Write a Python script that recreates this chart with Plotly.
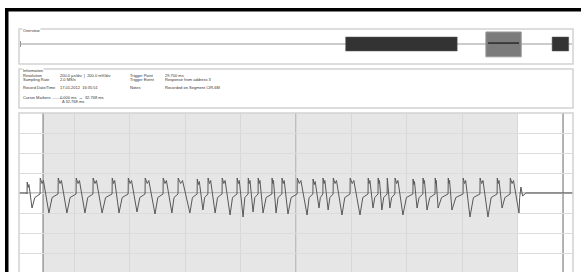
import plotly.graph_objects as go

W, H = 581, 272

# ---------------- data ----------------
# main view: time in microseconds, voltage in millivolts
rise_us = [29, 76, 141, 206, 267, 336, 394, 455, 520, 574, 643, 682, 733, 787, 827, 863, 913, 949,
           1004, 1061, 1097, 1134, 1195, 1260, 1296, 1329, 1357, 1422, 1458, 1502, 1549, 1603, 1664, 1726, 1773]
peak_mv = [110, 150, 150, 150, 150, 150, 150, 150, 150, 150, 140, 150, 150, 150, 150, 150, 150, 150,
           150, 140, 150, 150, 150, 150, 150, 150, 150, 140, 150, 150, 150, 150, 150, 150, 150]
trough_us = [47, 108, 173, 238, 300, 361, 426, 491, 552, 617, 664, 708, 762, 809, 845, 881, 928, 971,
             1040, 1083, 1116, 1166, 1231, 1278, 1310, 1339, 1386, 1437, 1473, 1513, 1563, 1628, 1693, 1744, 1805]
trough_mv = [-150, -200, -200, -200, -200, -200, -190, -210, -200, -200, -170, -200, -220, -240, -190, -200, -200, -210,
             -220, -150, -170, -220, -220, -150, -170, -150, -220, -150, -170, -150, -170, -240, -240, -150, -200]
tail_us = [1812, 1818, 1830, 2000]
tail_mv = [60, -30, 0, 0]

cursor_us = [87, 1964]
shade_us = [87, 1800]

# overview: time in ms
overview_bursts_ms = [(29.5, 39.6), (48.2, 49.7)]
viewport_ms = (42.2, 45.4)

info_left = [("Resolution", "200.0 µs/div  |  200.0 mV/div"),
             ("Sampling Rate", "2.0 MS/s"),
             ("Record Date/Time", "17.01.2012  16:35:51"),
             ("Cursor Markers ..........", "0.000 ms  ↔  32.768 ms")]
info_left_extra = "Δ 32.768 ms"
info_right = [("Trigger Point", "29.700 ms"),
              ("Trigger Event", "Response from address 3"),
              ("Notes", "Recorded on Segment CIR-6M")]

# ---------------- build the polyline ----------------
xs, ys = [0, rise_us[0] - 1], [0, 0]
n = len(rise_us)
for i in range(n):
    r, p, q, v = rise_us[i], peak_mv[i], trough_us[i], trough_mv[i]
    d = q - r
    xs += [r, r + 0.6, r + 0.22 * d, r + 0.38 * d, q]
    ys += [-10, p, p - 55, p - 25, v]
    nxt = rise_us[i + 1] if i + 1 < n else tail_us[0]
    g = nxt - q
    xs += [q + 0.35 * g]
    ys += [-45]
xs += tail_us
ys += tail_mv

def px(x):
    return x / W

def py(y):
    return 1 - y / H

fig = go.Figure()

fig.add_trace(go.Scatter(x=xs, y=ys, mode="lines", line=dict(color="#585858", width=1),
                         xaxis="x", yaxis="y", hoverinfo="skip", showlegend=False))

# overview baseline
fig.add_trace(go.Scatter(x=[0, 50], y=[0, 0], mode="lines", line=dict(color="#cccccc", width=2),
                         xaxis="x2", yaxis="y2", hoverinfo="skip", showlegend=False))

shapes = []
shapes.append(dict(type="rect", xref="x", yref="y", x0=shade_us[0], x1=shade_us[1], y0=-790, y1=800,
                   fillcolor="#e6e6e6", line=dict(width=0), layer="below"))
shapes.append(dict(type="line", xref="x", yref="y", x0=1000, x1=1000, y0=-790, y1=800,
                   line=dict(color="#a8a8a8", width=1.3), layer="below"))
for c in cursor_us:
    shapes.append(dict(type="line", xref="x", yref="y", x0=c, x1=c, y0=-790, y1=800,
                       line=dict(color="#9a9a9a", width=1.5), layer="below"))
shapes.append(dict(type="line", xref="x", yref="y", x0=0, x1=2000, y0=0, y1=0,
                   line=dict(color="#8a8a8a", width=1), layer="below"))

for a, b in overview_bursts_ms:
    shapes.append(dict(type="rect", xref="x2", yref="y2", x0=a, x1=b, y0=-0.6, y1=0.6,
                       fillcolor="#333333", line=dict(color="#555555", width=0.5)))
shapes.append(dict(type="rect", xref="x2", yref="y2", x0=viewport_ms[0], x1=viewport_ms[1], y0=-1.1, y1=1.03,
                   fillcolor="#7b7b7b", line=dict(color="#9a9a9a", width=1)))
shapes.append(dict(type="line", xref="x2", yref="y2", x0=viewport_ms[0] + 0.2, x1=viewport_ms[1] - 0.2, y0=0.08, y1=0.08,
                   line=dict(color="#2a2a2a", width=1.5)))

for (x0, y0, x1, y1) in [(19, 29, 573, 64), (19, 69, 573, 108), (19, 113, 573, 274)]:
    shapes.append(dict(type="rect", xref="paper", yref="paper", x0=px(x0), x1=px(x1), y0=py(y1), y1=py(y0),
                       line=dict(color="#d2d2d2", width=1.5), fillcolor="rgba(0,0,0,0)"))
shapes.append(dict(type="line", xref="paper", yref="paper", x0=px(20.5), x1=px(20.5), y0=py(47), y1=py(41),
                   line=dict(color="#999999", width=1)))
shapes.append(dict(type="rect", xref="paper", yref="paper", x0=px(5), x1=px(581), y0=py(11.5), y1=py(8),
                   fillcolor="black", line=dict(width=0)))
shapes.append(dict(type="rect", xref="paper", yref="paper", x0=px(5), x1=px(8.5), y0=0, y1=py(8),
                   fillcolor="black", line=dict(width=0)))

annotations = []
font_s = dict(family="Liberation Sans, Arial", size=4, color="#333333")
for label, y in [("Overview", 30), ("Information", 70)]:
    annotations.append(dict(text=label, x=px(22), y=py(y), xref="paper", yref="paper", xanchor="left",
                            yanchor="middle", showarrow=False, font=font_s, bgcolor="white", borderpad=0))
ys_rows = [75, 79, 88, 97]
for (lab, val), y in zip(info_left, ys_rows):
    annotations.append(dict(text=lab, x=px(21), y=py(y), xref="paper", yref="paper", xanchor="left",
                            yanchor="middle", showarrow=False, font=font_s))
    annotations.append(dict(text=val, x=px(58), y=py(y), xref="paper", yref="paper", xanchor="left",
                            yanchor="middle", showarrow=False, font=font_s))
annotations.append(dict(text=info_left_extra, x=px(60), y=py(101), xref="paper", yref="paper", xanchor="left",
                        yanchor="middle", showarrow=False, font=font_s))
for (lab, val), y in zip(info_right, [75, 79, 88]):
    annotations.append(dict(text=lab, x=px(128), y=py(y), xref="paper", yref="paper", xanchor="left",
                            yanchor="middle", showarrow=False, font=font_s))
    annotations.append(dict(text=val, x=px(163), y=py(y), xref="paper", yref="paper", xanchor="left",
                            yanchor="middle", showarrow=False, font=font_s))

fig.update_layout(
    width=W, height=H, margin=dict(l=0, r=0, t=0, b=0),
    paper_bgcolor="white", plot_bgcolor="rgba(0,0,0,0)",
    xaxis=dict(domain=[px(19), px(573)], range=[0, 2000], dtick=200, tick0=0, showgrid=True,
               gridcolor="#d8d8d8", gridwidth=1, zeroline=False, showticklabels=False, ticks="",
               fixedrange=True),
    yaxis=dict(domain=[0, py(113)], range=[-790, 800], dtick=200, tick0=0, showgrid=True,
               gridcolor="#dcdcdc", gridwidth=1, zeroline=False, showticklabels=False, ticks="",
               fixedrange=True),
    xaxis2=dict(domain=[px(20), px(572)], range=[0, 50], visible=False, anchor="y2", fixedrange=True),
    yaxis2=dict(domain=[py(58), py(30)], range=[-1.2, 1.2], visible=False, anchor="x2", fixedrange=True),
    shapes=shapes, annotations=annotations, showlegend=False, hovermode=False,
)

fig.write_html("out.html", config={"displayModeBar": False, "staticPlot": True},
               post_script="document.body.style.margin='0px';document.body.style.overflow='hidden';")
